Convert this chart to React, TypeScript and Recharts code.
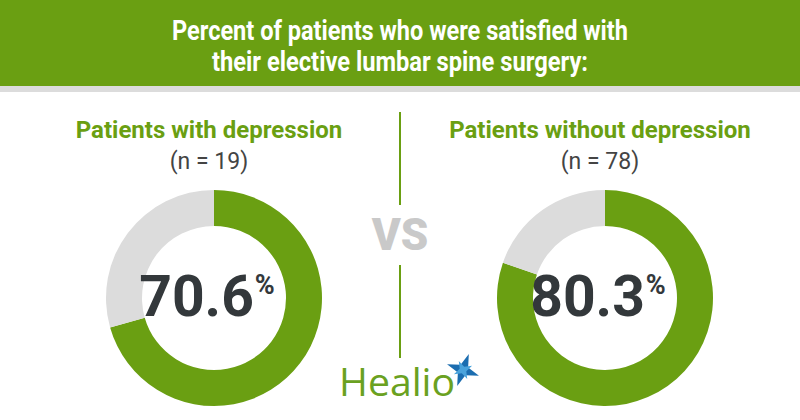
import { PieChart, Pie, Cell } from "recharts";

const GROUPS = ["Patients with depression", "Patients without depression"];
const SAMPLE_SIZES = [19, 78];
const SATISFIED = [70.6, 80.3];

const GREEN = "#6a9f12";
const RING_GRAY = "#dcdcdc";
const DARK = "#33383b";
const CENTERS = [209, 600];
const CY = 293;

const ringData = (pct: number) => [
  { name: "Satisfied", value: pct },
  { name: "Not satisfied", value: +(100 - pct).toFixed(1) },
];

const App = () => {
  return (
    <div
      style={{
        position: "fixed",
        left: 0,
        top: 0,
        width: 800,
        height: 420,
        background: "#fff",
        fontFamily: "Roboto, sans-serif",
      }}
    >
      <svg width={800} height={420} style={{ position: "absolute", left: 0, top: 0 }}>
        <rect x={0} y={0} width={800} height={86} fill={GREEN} />
        <rect x={0} y={86} width={800} height={6} fill="#dcdcdc" />
        <text
          x={400}
          y={40}
          textAnchor="middle"
          fill="#fff"
          fontSize={27}
          fontWeight={700}
          textLength={456}
          lengthAdjust="spacingAndGlyphs"
        >
          Percent of patients who were satisfied with
        </text>
        <text
          x={400}
          y={71}
          textAnchor="middle"
          fill="#fff"
          fontSize={27}
          fontWeight={700}
          textLength={376}
          lengthAdjust="spacingAndGlyphs"
        >
          their elective lumbar spine surgery:
        </text>

        <line x1={400} y1={112} x2={400} y2={205} stroke={GREEN} strokeWidth={2} />
        <line x1={400} y1={265} x2={400} y2={358} stroke={GREEN} strokeWidth={2} />
        <text x={400} y={250} textAnchor="middle" fill="#c9c9c9" fontSize={44} fontWeight={900}>
          VS
        </text>
      </svg>

      <div style={{ position: "absolute", left: 0, top: 0 }}>
        <PieChart width={800} height={420}>
          {SATISFIED.map((pct, i) => (
            <Pie
              key={GROUPS[i]}
              data={ringData(pct)}
              dataKey="value"
              nameKey="name"
              cx={CENTERS[i]}
              cy={CY}
              innerRadius={72}
              outerRadius={108}
              startAngle={90}
              endAngle={-270}
              stroke="none"
              isAnimationActive={false}
            >
              <Cell fill={GREEN} />
              <Cell fill={RING_GRAY} />
            </Pie>
          ))}
        </PieChart>
      </div>

      <svg
        width={800}
        height={420}
        style={{ position: "absolute", left: 0, top: 0, pointerEvents: "none" }}
      >
        {GROUPS.map((g, i) => (
          <g key={g}>
            <text x={CENTERS[i]} y={138} textAnchor="middle" fill={GREEN} fontSize={24} fontWeight={700}>
              {g}
            </text>
            <text x={CENTERS[i]} y={169} textAnchor="middle" fill="#444" fontSize={23}>
              (n = {SAMPLE_SIZES[i]})
            </text>
            <text x={CENTERS[i] - 2} y={316} textAnchor="middle" fill={DARK} fontSize={57} fontWeight={700}>
              {SATISFIED[i].toFixed(1)}
              <tspan fontSize={27} dy={-22} dx={1}>%</tspan>
            </text>
          </g>
        ))}

        <text
          x={339}
          y={396}
          fill="#6aa121"
          fontSize={39}
          fontWeight={500}
          fontFamily="'Open Sans', sans-serif"
          textLength={116}
          lengthAdjust="spacingAndGlyphs"
        >
          Healio
        </text>
        <g transform="translate(463 370)">
          <polygon
            points="0,-17 4,-4 17,0 4,4 0,17 -4,4 -17,0 -4,-4"
            fill="#1b6db0"
            transform="rotate(20)"
          />
          <polygon points="0,-10 2.5,-2.5 10,0 2.5,2.5 0,10 -2.5,2.5 -10,0 -2.5,-2.5" fill="#4aa3dc" transform="rotate(65)" />
        </g>
      </svg>
    </div>
  );
};

export default App;
